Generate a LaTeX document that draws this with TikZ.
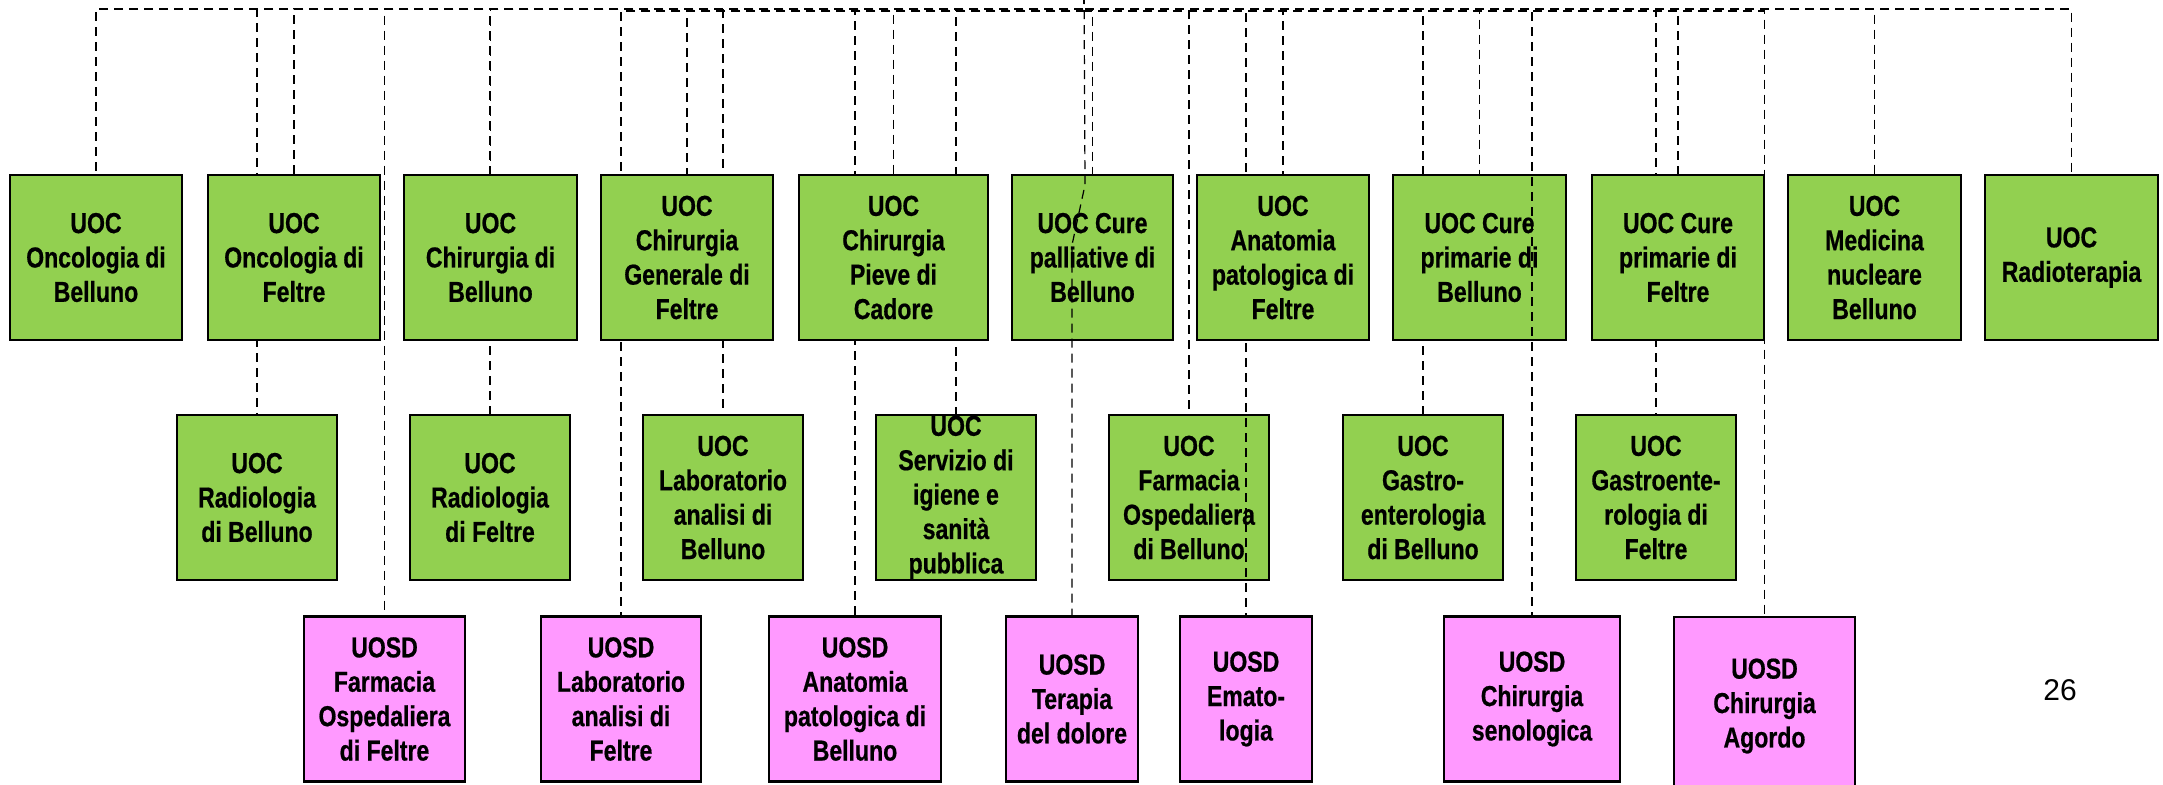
\documentclass[tikz,border=0pt]{standalone}
\usepackage{fontspec}
\newfontfamily\boxfont{Liberation Sans}[FakeStretch=0.80,BoldFeatures={FakeBold=0.6}]
\newfontfamily\plainfont{Liberation Sans}
\definecolor{Leaf}{HTML}{92D050}
\definecolor{Orchid}{HTML}{FF99FF}
\pgfdeclarelayer{edges}
\pgfdeclarelayer{lower}
\pgfdeclarelayer{cross}
\pgfdeclarelayer{front}
\pgfsetlayers{edges,lower,cross,main,front}
\tikzset{
  link/.style={line width=0.6pt,dash pattern=on 4.5pt off 3pt},
  unitbase/.style={draw=black,line width=1.2pt,align=center,inner xsep=1pt,inner ysep=0pt,
    minimum height=82.5pt,font=\boxfont\bfseries\fontsize{14.4}{17.2}\selectfont},
  uoc/.style={unitbase,fill=Leaf,minimum width=#1},
  uosd/.style={unitbase,fill=Orchid,minimum width=#1},
}
\begin{document}
\begin{tikzpicture}[x=0.5pt,y=-0.5pt]
  \useasboundingbox (0,0) rectangle (2163,784);
  \coordinate (root) at (1084,-20);
  \coordinate (hub) at (1084,9);
  \coordinate (hubp) at (1084,11);
  % first row
  \node[uoc=86pt] (oncbl) at (96,257.5) {UOC\\Oncologia di\\Belluno};
  \node[uoc=86pt] (oncft) at (294,257.5) {UOC\\Oncologia di\\Feltre};
  \node[uoc=86.5pt] (chibl) at (490.5,257.5) {UOC\\Chirurgia di\\Belluno};
  \node[uoc=86pt] (chift) at (687,257.5) {UOC\\Chirurgia\\Generale di\\Feltre};
  \node[uoc=94.5pt] (chipc) at (893.5,257.5) {UOC\\Chirurgia\\Pieve di\\Cadore};
  \node[uoc=80.5pt] (palbl) at (1092.5,257.5) {UOC Cure\\palliative di\\Belluno};
  \node[uoc=86pt] (anaft) at (1283,257.5) {UOC\\Anatomia\\patologica di\\Feltre};
  \node[uoc=86.5pt] (prmbl) at (1479.5,257.5) {UOC Cure\\primarie di\\Belluno};
  \node[uoc=86pt] (prmft) at (1678,257.5) {UOC Cure\\primarie di\\Feltre};
  \node[uoc=86.5pt] (medbl) at (1874.5,257.5) {UOC\\Medicina\\nucleare\\Belluno};
  \node[uoc=86.5pt] (radio) at (2071.5,257.5) {UOC\\Radioterapia};
  % second row
  \begin{pgfonlayer}{lower}
    \node[uoc=80pt] (radbl) at (257,497.5) {UOC\\Radiologia\\di Belluno};
    \node[uoc=80pt] (radft) at (490,497.5) {UOC\\Radiologia\\di Feltre};
    \node[uoc=80pt] (labbl) at (723,497.5) {UOC\\Laboratorio\\analisi di\\Belluno};
    \node[uoc=80pt] (igien) at (956,497.5) {UOC\\Servizio di\\igiene e\\sanità\\pubblica};
    \node[uoc=80pt] (farbl) at (1189,497.5) {UOC\\Farmacia\\Ospedaliera\\di Belluno};
    \node[uoc=80pt] (gasbl) at (1423,497.5) {UOC\\Gastro-\\enterologia\\di Belluno};
    \node[uoc=80pt] (gasft) at (1656,497.5) {UOC\\Gastroente-\\rologia di\\Feltre};
  \end{pgfonlayer}
  % third row
  \node[uosd=80.5pt] (farft) at (384.5,699) {UOSD\\Farmacia\\Ospedaliera\\di Feltre};
  \node[uosd=80pt] (labft) at (621,699) {UOSD\\Laboratorio\\analisi di\\Feltre};
  \node[uosd=86pt] (anabl) at (855,699) {UOSD\\Anatomia\\patologica di\\Belluno};
  \node[uosd=66pt] (dolor) at (1072,699) {UOSD\\Terapia\\del dolore};
  \node[uosd=66pt] (emato) at (1246,699) {UOSD\\Emato-\\logia};
  \node[uosd=88pt] (senol) at (1532,699) {UOSD\\Chirurgia\\senologica};
  \node[uosd=90.5pt,minimum height=89pt] (agord) at (1764.5,706) {UOSD\\Chirurgia\\Agordo};
  \node[font=\plainfont\fontsize{15}{18}\selectfont] (pgno) at (2060,690) {26};
  % connectors
  \begin{pgfonlayer}{edges}
    \draw[link] (root) -- (hub) -| (oncbl.north);
    \draw[link] (root) -- (hub) -| (oncft.north);
    \draw[link] (root) -- (hub) -| (chibl.north);
    \draw[link] (root) -- (hub) -| (chift.north);
    \draw[link] (root) -- (hub) -| (chipc.north);
    \draw[link] (root) -- (hub) -| (palbl.north);
    \draw[link] (root) -- (hub) -| (anaft.north);
    \draw[link] (root) -- (hub) -| (prmbl.north);
    \draw[link] (root) -- (hub) -| (prmft.north);
    \draw[link] (root) -- (hub) -| (medbl.north);
    \draw[link] (root) -- (hub) -| (radio.north);
    \draw[link] (root) -- (hub) -| (radbl.north);
    \draw[link] (root) -- (hub) -| (radft.north);
    \draw[link] (root) -- (hub) -| (labbl.north);
    \draw[link] (root) -- (hub) -| (igien.north);
    \draw[link] (root) -- (hub) -| (farbl.north);
    \draw[link] (root) -- (hub) -| (gasbl.north);
    \draw[link] (root) -- (hub) -| (gasft.north);
    \draw[link] (root) -- (hub) -| (farft.north);
    \draw[link] (root) -- (hubp) -| (labft.north);
    \draw[link] (root) -- (hubp) -| (anabl.north);
  \end{pgfonlayer}
  \begin{pgfonlayer}{cross}
    \draw[link] (root) -- (hubp) -| (emato.north);
  \end{pgfonlayer}
  \begin{pgfonlayer}{front}
    \coordinate (bendA) at (1085,185);
    \coordinate (bendB) at (1072,245);
    \draw[link] (root) -- (bendA) -- (bendB) -- (dolor.north);
    \draw[link] (root) -- (hubp) -| (senol.north);
    \draw[link] (root) -- (hubp) -| (agord.north);
  \end{pgfonlayer}
\end{tikzpicture}
\end{document}
